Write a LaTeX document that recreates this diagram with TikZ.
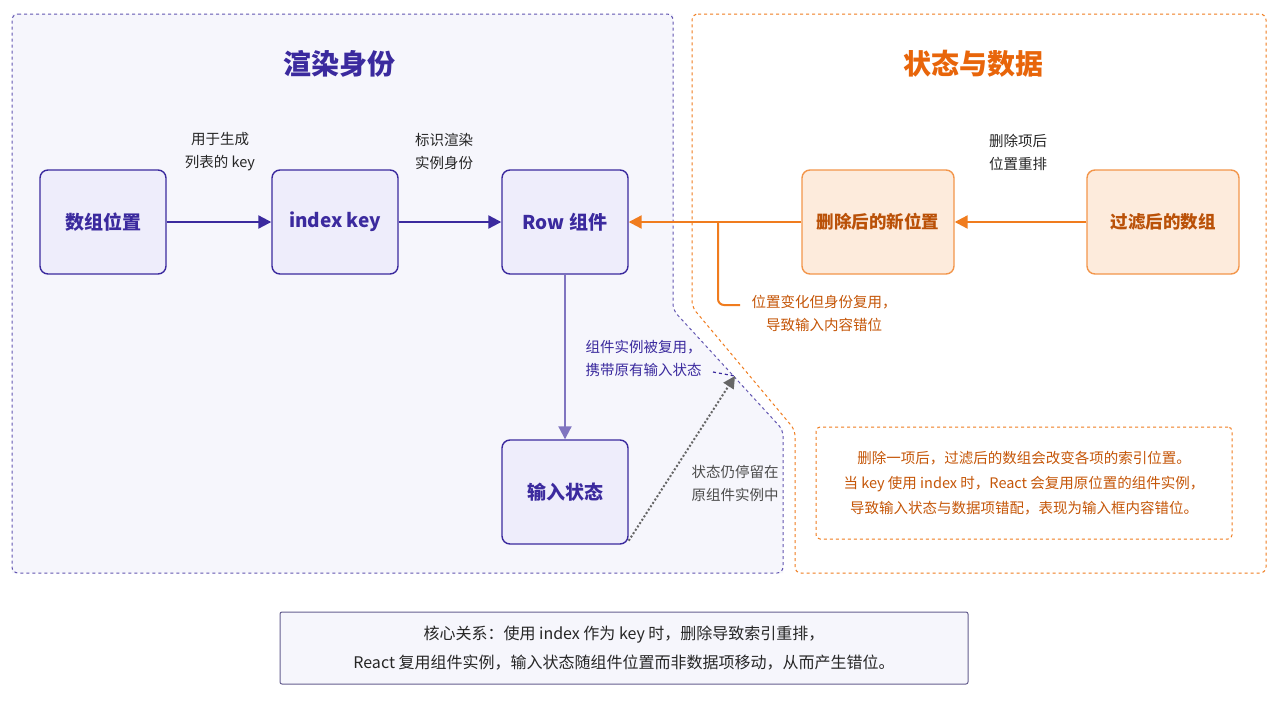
\documentclass[tikz,border=0pt]{standalone}
\usepackage{fontspec}
\setmainfont{Noto Sans CJK SC}
\usetikzlibrary{arrows.meta}
\definecolor{pur}{HTML}{3B2A9E}
\definecolor{purl}{HTML}{EEEDFB}
\definecolor{org}{HTML}{F07C1E}
\definecolor{orgt}{HTML}{E8650A}
\definecolor{orgl}{HTML}{FDEBDC}
\definecolor{lbg}{HTML}{F6F6FC}
\begin{document}
\begin{tikzpicture}[x=1pt,y=-1pt,
 box/.style={draw=pur,line width=1.4pt,fill=purl,rounded corners=8pt,minimum width=126pt,minimum height=104pt,font=\fontsize{19}{22}\selectfont\bfseries,text=pur},
 obox/.style={draw=org!80,line width=1.4pt,fill=orgl,rounded corners=8pt,minimum width=152pt,minimum height=104pt,font=\fontsize{17.5}{22}\selectfont\bfseries,text=orgt!80!black},
 lbl/.style={font=\fontsize{14.5}{23}\selectfont,align=center},
 parr/.style={draw=pur,line width=2.2pt,-{Triangle[length=13pt,width=13pt]}},
 oarr/.style={draw=org,line width=2.2pt,-{Triangle[length=13pt,width=13pt]}}]
\useasboundingbox[fill=white] (0,0) rectangle (1280,702);
\fill[lbg] (12,14)--(673,14)--(673,310)--(783,430)--(783,573)--(12,573)--cycle;
\draw[pur!80,dashed,line width=1pt,rounded corners=6pt] (12,14)--(673,14)--(673,310)--(783,430)--(783,573)--(12,573)--cycle;
\draw[org,dashed,line width=1pt,rounded corners=6pt] (692,14)--(1266,14)--(1266,573)--(795,573)--(795,430)--(692,307)--cycle;
\node[font=\fontsize{28}{32}\selectfont\bfseries,text=pur] (t1) at (339,64) {渲染身份};
\node[font=\fontsize{28}{32}\selectfont\bfseries,text=orgt] (t2) at (973,64) {状态与数据};
\node[box] (a) at (103,222) {数组位置};
\node[box] (b) at (335,222) {index key};
\node[box] (c) at (565,222) {Row 组件};
\node[box] (d) at (565,492) {输入状态};
\node[obox] (e) at (878,222) {删除后的新位置};
\node[obox] (f) at (1163,222) {过滤后的数组};
\draw[parr] (a) -- (b);
\draw[parr] (b) -- (c);
\draw[draw=pur!65,line width=2pt,-{Triangle[length=13pt,width=13pt]}] (c) -- (d);
\draw[oarr] (f) -- (e);
\draw[oarr] (e) -- (c);
\coordinate (br) at (718,222);
\coordinate (be) at (740,305);
\draw[org,line width=2pt,rounded corners=6pt] (br) -- (718,305) -- (be);
\node[lbl,text=black!85] (l1) at (220,152) {用于生成\\列表的 key};
\node[lbl,text=black!85] (l2) at (444,152) {标识渲染\\实例身份};
\node[lbl,text=black!85] (l3) at (1018,152) {删除项后\\位置重排};
\node[lbl,text=orgt!85!black,anchor=west] (l4) at (748,313) {位置变化但身份复用，\\导致输入内容错位};
\node[lbl,text=pur,anchor=west] (l5) at (582,358) {组件实例被复用，\\携带原有输入状态};
\node[lbl,text=black!70,anchor=west] (l6) at (688,483) {状态仍停留在\\原组件实例中};
\coordinate (tip) at (735,376);
\draw[pur,dashed,line width=1.2pt] (713,372) -- (tip);
\draw[black!60,dotted,line width=2pt,-{Triangle[length=12pt,width=12pt]}] (d.south east) ++(0,-4) -- (tip);
\node[draw=org,dashed,line width=1pt,rounded corners=4pt,minimum width=416pt,minimum height=112pt,lbl,text=orgt!85!black,font=\fontsize{14.5}{25}\selectfont] (n) at (1024,483) {删除一项后，过滤后的数组会改变各项的索引位置。\\当 key 使用 index 时，React 会复用原位置的组件实例，\\导致输入状态与数据项错配，表现为输入框内容错位。};
\node[draw=pur!60!black!70,line width=1pt,fill=lbg,rounded corners=2pt,minimum width=688pt,minimum height=72pt,font=\fontsize{16}{29}\selectfont,align=center,text=black!85] (s) at (624,648) {核心关系：使用 index 作为 key 时，删除导致索引重排，\\React 复用组件实例，输入状态随组件位置而非数据项移动，从而产生错位。};
\end{tikzpicture}
\end{document}
